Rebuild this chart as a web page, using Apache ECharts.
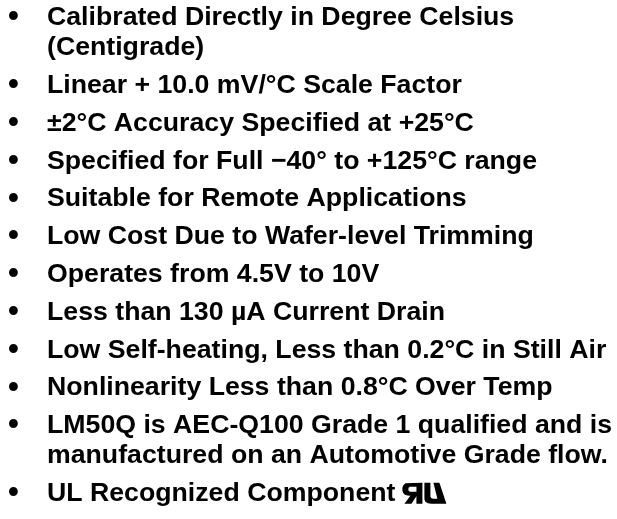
<!DOCTYPE html>
<html><head><meta charset="utf-8">
<script src="https://cdn.jsdelivr.net/npm/echarts@6/dist/echarts.min.js"></script>
<style>html,body{margin:0;padding:0;background:#fff}#c{width:617px;height:519px}</style>
</head><body><div id="c"></div>
<script>
// Feature list (each item may wrap to several lines)
const item1 = ["Calibrated Directly in Degree Celsius", "(Centigrade)"];
const item2 = ["Linear + 10.0 mV/°C Scale Factor"];
const item3 = ["±2°C Accuracy Specified at +25°C"];
const item4 = ["Specified for Full \u221240° to +125°C range"];
const item5 = ["Suitable for Remote Applications"];
const item6 = ["Low Cost Due to Wafer-level Trimming"];
const item7 = ["Operates from 4.5V to 10V"];
const item8 = ["Less than 130 µA Current Drain"];
const item9 = ["Low Self-heating, Less than 0.2°C in Still Air"];
const item10 = ["Nonlinearity Less than 0.8°C Over Temp"];
const item11 = ["LM50Q is AEC-Q100 Grade 1 qualified and is", "manufactured on an Automotive Grade flow."];
const item12 = ["UL Recognized Component"];
const features = [item1, item2, item3, item4, item5, item6, item7, item8, item9, item10, item11, item12];
const bulletChar = "\u2022";

const FS = 26.7;
const FONT_FAMILY = '"Liberation Sans", Arial, Helvetica, sans-serif';
const TEXT_X = 47, BULLET_X = 8;
const FIRST_BASE = 27, WRAP_GAP = 30, ITEM_GAP = 37.8;
const MID_OFF = 9.2; // baseline -> middle offset

const ctx = document.createElement('canvas').getContext('2d');
ctx.font = 'bold ' + FS + 'px ' + FONT_FAMILY;

const elements = [];
let base = FIRST_BASE;
let lastLineEnd = 0, lastBase = 0;
features.forEach(function (lines, i) {
  elements.push({
    type: 'text', x: BULLET_X, y: base - MID_OFF,
    style: { text: bulletChar, font: 'bold 31px ' + FONT_FAMILY, fill: '#000', verticalAlign: 'middle', align: 'left' }
  });
  lines.forEach(function (ln, j) {
    if (j > 0) base += WRAP_GAP;
    elements.push({
      type: 'text', x: TEXT_X, y: base - MID_OFF,
      style: { text: ln, font: 'bold ' + FS + 'px ' + FONT_FAMILY, fill: '#000', verticalAlign: 'middle', align: 'left' }
    });
    lastLineEnd = TEXT_X + ctx.measureText(ln).width;
    lastBase = base;
  });
  if (i < features.length - 1) base += ITEM_GAP;
});

// UL Recognized Component mark after the last line (a symbol, drawn as shapes)
const markX = lastLineEnd + 7, markY = lastBase - 20;
elements.push({
  type: 'group', x: markX, y: markY,
  children: [
    { type: 'polygon', shape: { points: [[3,0.5],[20,0],[20,21],[14,21],[14,13.5],[9,21],[2,21],[8,13],[5,12.8],[2.5,12],[0.8,10.3],[0,8],[0,5],[0.8,2.6]] }, style: { fill: '#000' } },
    { type: 'polygon', shape: { points: [[14,4],[14,9],[7.5,9],[6.2,8],[6,6.5],[6.2,5],[7.5,4]] }, style: { fill: '#fff' } },
    { type: 'polygon', shape: { points: [[22,0],[28,0],[28,14],[29,15.5],[31,16],[35,16],[31,0],[37,0],[44,21],[29,21],[25.5,20.5],[23,19],[22,16.5]] }, style: { fill: '#000' } }
  ]
});

const chart = echarts.init(document.getElementById('c'), null, { renderer: 'canvas' });
chart.setOption({ backgroundColor: '#fff', animation: false, graphic: { elements: elements } });
</script></body></html>
